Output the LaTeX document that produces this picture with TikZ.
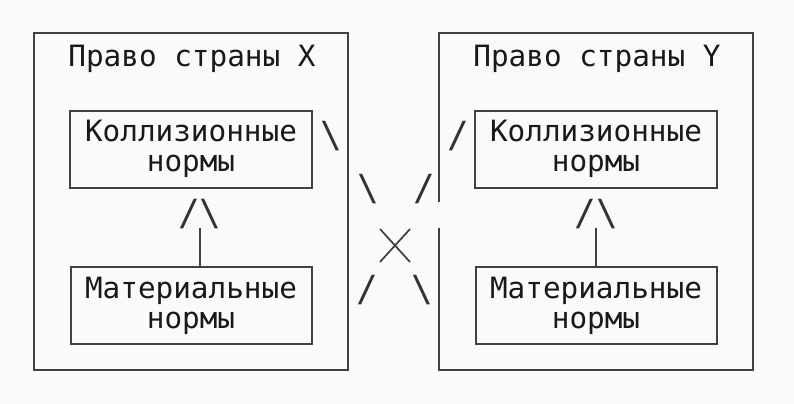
\documentclass[tikz,border=0pt]{standalone}
\usepackage{fontspec}
\setmonofont{DejaVu Sans Mono}
\begin{document}
\begin{tikzpicture}[x=0.75pt,y=-0.75pt,
  lbl/.style={font=\ttfamily\fontsize{22}{22}\selectfont,align=center,inner sep=0,text=black!90},
  ch/.style={font=\ttfamily\fontsize{27}{28}\selectfont,inner sep=0,text=black!80},
  frame/.style={draw=black!75,line width=1.3pt}]
\useasboundingbox (0,0) rectangle (794,404);
\fill[black!2] (0,0) rectangle (794,404);
% left
\draw[frame] (34,33) rectangle (348,370);
\node[lbl] (tx) at (192,59) {Право страны X};
\draw[frame] (70,111) rectangle (312,188);
\node[lbl] (kx) at (191,149) {Коллизионные\\нормы};
\draw[frame] (71,267) rectangle (312,344);
\node[lbl] (mx) at (191,306) {Материальные\\нормы};
\node[ch] (ax) at (200,214) {/\textbackslash};
\coordinate (bx) at (200,267);
\draw[frame] (bx) -- (200,228);
% right
\draw[frame] (439,202) -- (439,33) -- (753,33) -- (753,370) -- (439,370) -- (439,228);
\node[lbl] (ty) at (597,59) {Право страны Y};
\draw[frame] (475,111) rectangle (717,188);
\node[lbl] (ky) at (596,149) {Коллизионные\\нормы};
\draw[frame] (476,267) rectangle (717,344);
\node[lbl] (my) at (596,306) {Материальные\\нормы};
\node[ch] (ay) at (596,214) {/\textbackslash};
\coordinate (by) at (596,267);
\draw[frame] (by) -- (596,228);
% cross
\node[ch] (c1) at (331,136) {\textbackslash};
\node[ch] (c2) at (368,189) {\textbackslash};
\node[ch] (c3) at (424,189) {/};
\coordinate (x1) at (380,229); \coordinate (x2) at (410,262);
\coordinate (x3) at (410,229); \coordinate (x4) at (380,262);
\draw[black!75,line width=1.3pt] (x1) -- (x2) (x3) -- (x4);
\node[ch] (c5) at (367,290) {/};
\node[ch] (c6) at (422,290) {\textbackslash};
\node[ch] (c7) at (458,136) {/};
\end{tikzpicture}
\end{document}
